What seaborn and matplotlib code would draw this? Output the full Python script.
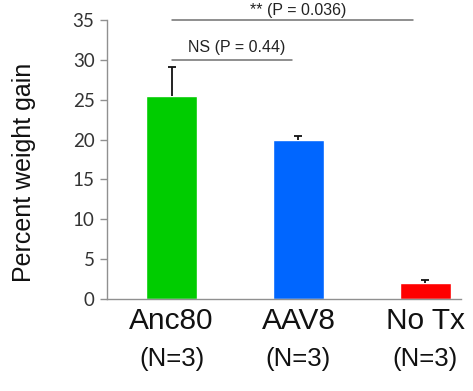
import matplotlib
matplotlib.use("Agg")
import matplotlib.pyplot as plt
import seaborn as sns
import pandas as pd

categories = ["Anc80", "AAV8", "No Tx"]
values = [25.5, 20.0, 2.05]
err_upper = [3.6, 0.4, 0.3]
n_labels = ["(N=3)", "(N=3)", "(N=3)"]
bar_colors = ["#00CC00", "#0066FF", "#FF0000"]
y_ticks = [0, 5, 10, 15, 20, 25, 30, 35]
sig_ns = "NS (P = 0.44)"
sig_star = "** (P = 0.036)"

sns.set_style("white")
plt.rcParams["font.family"] = ["Liberation Sans", "DejaVu Sans"]

df = pd.DataFrame({"group": categories, "value": values})

fig = plt.figure(figsize=(4.73, 3.91), dpi=100)
ax = fig.add_axes([107 / 473, 1 - 299 / 391, (461 - 107) / 473, (299 - 20) / 391])

sns.barplot(data=df, x="group", y="value", hue="group", palette=bar_colors,
            width=0.4, legend=False, ax=ax, errorbar=None, saturation=1)

xs = list(range(len(categories)))
eb = ax.errorbar(xs, values, yerr=[[0] * len(values), err_upper], fmt="none",
                 ecolor="#111111", elinewidth=1.3, capsize=3.2, capthick=1.3, zorder=5)
# hide the lower caps (one-sided error bars)
if len(eb[1]) == 2:
    eb[1][0].set_visible(False)

ax.set_ylim(0, 35)
ax.set_xlim(-0.508, 2.28)
ax.set_yticks(y_ticks)
ax.set_yticklabels([str(t) for t in y_ticks], fontfamily="Lato", fontsize=13.5, color="#333333")
ax.set_xticks(xs)
ax.set_xticklabels(categories, fontsize=21.5, color="#111111")
ax.tick_params(axis="x", length=0, pad=6)
ax.tick_params(axis="y", length=5, width=1, color="#909090", pad=4, direction="out", left=True)
ax.set_xlabel("")
ax.set_ylabel("")

for s in ["top", "right"]:
    ax.spines[s].set_visible(False)
for s in ["left", "bottom"]:
    ax.spines[s].set_color("#909090")
    ax.spines[s].set_linewidth(1.0)

# N labels
for x, lab in zip(xs, n_labels):
    ax.text(x, -0.215, lab, transform=ax.get_xaxis_transform(), ha="center", va="center",
            fontsize=18.5, color="#111111", clip_on=False)

# significance lines
ax.plot([0, 0.95], [30, 30], color="#707070", lw=1.1, clip_on=False)
ax.text(0.51, 30.6, sig_ns, ha="center", va="bottom", fontsize=11.5, color="#222222")
ax.plot([0, 1.9], [35, 35], color="#707070", lw=1.1, clip_on=False)
ax.text(1.0, 35.3, sig_star, ha="center", va="bottom", fontsize=11.5, color="#222222", clip_on=False)

fig.text(24 / 473, 1 - 172 / 391, "Percent weight gain", rotation=90, ha="center", va="center",
         fontsize=18, color="#111111")

fig.savefig("out.png", dpi=100, facecolor="white")
